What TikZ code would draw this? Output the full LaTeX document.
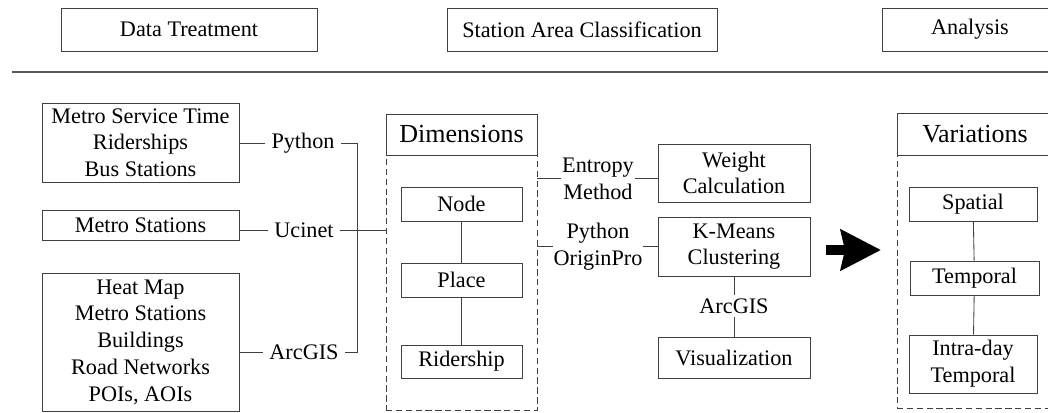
\documentclass[tikz,border=0pt]{standalone}
\usepackage{fontspec}
\setmainfont{Liberation Serif}
\usetikzlibrary{arrows.meta}

\newcommand{\pu}{0.025cm}
\newcommand{\txt}{\fontsize{15.8}{19}\selectfont}
\newcommand{\bigtxt}{\fontsize{18.5}{22}\selectfont}

\tikzset{
	box/.style={draw=black!75, line width=0.7pt, align=center, inner sep=0pt, font=\txt},
	head/.style={box, font=\bigtxt},
	frame/.style={draw=black!75, line width=0.7pt, dash pattern=on 4.5pt off 2.5pt, inner sep=0pt},
	lbl/.style={align=center, inner xsep=4.5pt, inner ysep=2.5pt, font=\txt},
	tightlbl/.style={lbl, inner xsep=0.5pt},
	link/.style={draw=black!75, line width=0.6pt}
}

\begin{document}
\begin{tikzpicture}[x=\pu, y=-\pu]
			\clip (0,0) rectangle (1048,413);

			\node[box, minimum width=256*\pu, minimum height=43*\pu] (hData) at (189,29.5) {Data Treatment};
			\node[box, minimum width=270*\pu, minimum height=43*\pu] (hClass) at (582,29.5) {Station Area Classification};
			\node[box, minimum width=176*\pu, minimum height=43*\pu] (hAna) at (970,29.5) {Analysis};
			\draw [black!65, line width=1pt] (12,72) -- (1060,72);

			\node[box, minimum width=197*\pu, minimum height=79*\pu] (src1) at (140.5,142.5) {Metro Service Time\\Riderships\\Bus Stations};
			\node[box, minimum width=197*\pu, minimum height=30*\pu] (src2) at (140.5,225) {Metro Stations};
			\node[box, minimum width=197*\pu, minimum height=138*\pu] (src3) at (140.5,342) {Heat Map\\Metro Stations\\Buildings\\Road Networks\\POIs, AOIs};

			\node[lbl] (tPy) at (303,143.5) {Python};
			\node[lbl] (tUc) at (304,230) {Ucinet};
			\node[lbl] (tArc) at (304,352) {ArcGIS};
			\coordinate (jn) at (357,231);

			\node[head, minimum width=151*\pu, minimum height=41*\pu] (dimh) at (461.5,134.5) {Dimensions};
			\node[frame, minimum width=151*\pu, minimum height=255*\pu] (dimb) at (461.5,282.5) {};
			\node[box, minimum width=121*\pu, minimum height=34*\pu] (nd) at (461.5,204) {Node};
			\node[box, minimum width=121*\pu, minimum height=34*\pu] (pl) at (461.5,280) {Place};
			\node[box, minimum width=121*\pu, minimum height=33*\pu] (rs) at (461.5,361.5) {Ridership};

			\node[tightlbl] (tEnt) at (598,178.5) {Entropy\\Method};
			\node[tightlbl] (tPO) at (598,246.5) {Python\\OriginPro};
			\node[box, minimum width=152*\pu, minimum height=58*\pu] (wgt) at (734,173) {Weight\\Calculation};
			\node[box, minimum width=152*\pu, minimum height=59*\pu] (km) at (734,246.5) {K-Means\\Clustering};
			\node[lbl] (tArc2) at (734,306) {ArcGIS};
			\node[box, minimum width=152*\pu, minimum height=41*\pu] (vis) at (734,357.5) {Visualization};

			\coordinate (arS) at (826,250);
			\coordinate (arE) at (881,250);

			\node[head, minimum width=156*\pu, minimum height=42*\pu] (varh) at (975,134) {Variations};
			\node[frame, minimum width=156*\pu, minimum height=253*\pu] (varb) at (975,281.5) {};
			\node[box, minimum width=128*\pu, minimum height=34*\pu] (sp) at (973,204) {Spatial};
			\node[box, minimum width=129*\pu, minimum height=34*\pu] (tp) at (974.5,278) {Temporal};
			\node[box, minimum width=128*\pu, minimum height=58*\pu] (idt) at (973,364) {Intra-day\\Temporal};

			\draw [link] (tPy.west -| src1.east) -- (tPy.west);
			\draw [link] (tUc.west -| src2.east) -- (tUc.west);
			\draw [link] (tArc.west -| src3.east) -- (tArc.west);
			\draw [link] (tPy.east) -- (tPy.east -| jn) -- (tArc.east -| jn) -- (tArc.east);
			\draw [link] (tUc.east) -- (tUc.east -| dimb.west);

			\draw [link] (nd) -- (pl);
			\draw [link] (pl) -- (rs);

			\draw [link] (tEnt.west -| dimb.east) -- (tEnt.west);
			\draw [link] (tEnt.east) -- (tEnt.east -| wgt.west);
			\draw [link] (tPO.west -| dimb.east) -- (tPO.west);
			\draw [link] (tPO.east) -- (tPO.east -| km.west);
			\draw [link] (km) -- (tArc2);
			\draw [link] (tArc2) -- (vis);

			\draw [line width=10*\pu, -{Stealth[length=40*\pu, width=40*\pu, inset=4*\pu]}] (arS) -- (arE);

			\draw [link] (sp) -- (tp);
			\draw [link] (tp) -- (idt);

		\end{tikzpicture}
\end{document}
